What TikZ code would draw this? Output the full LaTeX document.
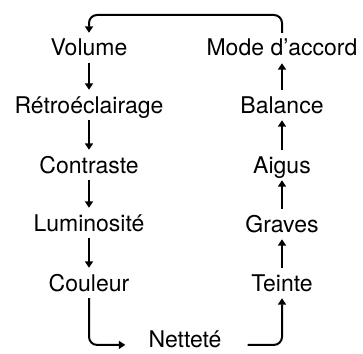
\documentclass[tikz,border=0pt]{standalone}
\usepackage{fontspec}
\setmainfont{TeX Gyre Heros}
\usetikzlibrary{arrows.meta}
\tikzset{
  lbl/.style={font=\fontsize{23}{27}\selectfont, anchor=base, inner xsep=0pt, inner ysep=5pt, text height=18pt, text depth=2pt},
  arr/.style={line width=2pt, -{Triangle[length=6.5pt,width=8pt]}},
  roundbend/.style={rounded corners=8pt}
}
\begin{document}
\begin{tikzpicture}
\useasboundingbox (0,0) rectangle (363pt,-353pt);
% left column
\node[lbl] (vol)  at (89pt,-56pt)  {Volume};
\node[lbl] (retro) at (89pt,-113pt) {Rétroéclairage};
\node[lbl] (contr) at (89pt,-173pt) {Contraste};
\node[lbl] (lumi) at (89pt,-231pt) {Luminosité};
\node[lbl] (coul) at (89pt,-291pt) {Couleur};
% bottom
\node[lbl, text depth=0pt, inner ysep=1pt] (net) at (185pt,-347.5pt) {Netteté};
% right column
\node[lbl] (teinte) at (282pt,-291pt) {Teinte};
\node[lbl] (graves) at (282pt,-232pt) {Graves};
\node[lbl] (aigus) at (282pt,-173pt) {Aigus};
\node[lbl] (bal) at (282pt,-113pt) {Balance};
\node[lbl] (mode) at (282pt,-56pt) {Mode d’accord};
\coordinate (top) at (0,-15pt);
% connectors
\draw[arr] (vol.south) -- (retro.north);
\draw[arr] (retro.south) -- (contr.north);
\draw[arr] (contr.south) -- (lumi.north);
\draw[arr] (lumi.south) -- (coul.north);
\draw[arr, roundbend, shorten >=23pt] (coul.south) |- (net.mid west);
\draw[arr, roundbend, shorten <=26pt] (net.mid east) -| (teinte.south);
\draw[arr] (teinte.north) -- (graves.south);
\draw[arr] (graves.north) -- (aigus.south);
\draw[arr] (aigus.north) -- (bal.south);
\draw[arr] (bal.north) -- (mode.south);
\draw[arr, roundbend] (mode.north) -- (mode.north |- top) -- (vol.north |- top) -- (vol.north);
\end{tikzpicture}
\end{document}
